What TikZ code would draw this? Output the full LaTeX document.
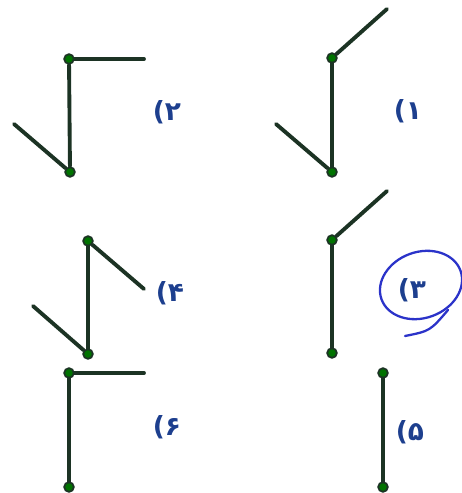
\documentclass[tikz,border=0pt]{standalone}
\usepackage{fontspec}
\newfontfamily\fafont[Script=Arabic]{DejaVu Sans}
\definecolor{stick}{HTML}{1C3324}
\definecolor{ink}{HTML}{1D3F8E}
\definecolor{pen}{HTML}{2B33C9}
\tikzset{
  bar/.style={stick,line width=2.2pt,line cap=round},
  joint/.style={circle,draw=stick,fill=green!45!black,line width=1pt,inner sep=0pt,minimum size=5.5pt},
  lbl/.style={ink,font=\fafont\bfseries\fontsize{15}{18}\selectfont}
}
\begin{document}
\begin{tikzpicture}[x=0.02cm,y=-0.02cm]
        \useasboundingbox (0,0) rectangle (461,493);
        % (1)
        \node[joint] (a1) at (332,58) {}; \node[joint] (b1) at (332,172) {};
        \coordinate (u1) at (387,9); \coordinate (w1) at (276,124);
        \draw[bar] (a1)--(b1); \draw[bar] (a1)--(u1); \draw[bar] (w1)--(b1);
        \node[lbl] (l1) at (408,111) {۱)};
        % (2)
        \node[joint] (a2) at (69,59) {}; \node[joint] (b2) at (70,172) {};
        \coordinate (u2) at (144,59); \coordinate (w2) at (14,124);
        \draw[bar] (a2)--(b2); \draw[bar] (a2)--(u2); \draw[bar] (w2)--(b2);
        \node[lbl] (l2) at (167,112) {۲)};
        % (3)
        \node[joint] (a3) at (332,240) {}; \node[joint] (b3) at (332,353) {};
        \coordinate (u3) at (387,191);
        \draw[bar] (a3)--(b3); \draw[bar] (a3)--(u3);
        \node[lbl] (l3) at (412,290) {۳)};
        \draw[pen,line width=1.3pt] (421,285) ellipse [x radius=42,y radius=33,rotate=20];
        \draw[pen,line width=1.3pt,line cap=round] (405,336) .. controls (430,331) .. (448,310);
        % (4)
        \node[joint] (a4) at (88,241) {}; \node[joint] (b4) at (88,354) {};
        \coordinate (u4) at (144,289); \coordinate (w4) at (33,306);
        \draw[bar] (a4)--(b4); \draw[bar] (a4)--(u4); \draw[bar] (w4)--(b4);
        \node[lbl] (l4) at (170,293) {۴)};
        % (5)
        \node[joint] (a5) at (383,373) {}; \node[joint] (b5) at (383,487) {};
        \draw[bar] (a5)--(b5);
        \node[lbl] (l5) at (410,432) {۵)};
        % (6)
        \node[joint] (a6) at (69,373) {}; \node[joint] (b6) at (69,487) {};
        \coordinate (u6) at (144,373);
        \draw[bar] (a6)--(b6); \draw[bar] (a6)--(u6);
        \node[lbl] (l6) at (167,427) {۶)};
    \end{tikzpicture}
\end{document}
